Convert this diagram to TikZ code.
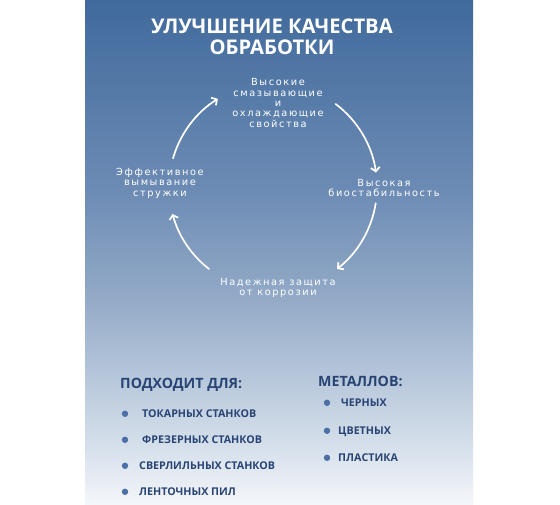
\documentclass[tikz,border=0pt]{standalone}
\usepackage{fontspec}
\setmainfont{Open Sans}
\newfontfamily\cycfont{DejaVu Sans}
\usetikzlibrary{arrows.meta}
\definecolor{PanelTop}{RGB}{64,106,156}
\definecolor{PanelA}{RGB}{108,139,180}
\definecolor{PanelMid}{RGB}{148,171,200}
\definecolor{PanelB}{RGB}{184,200,219}
\definecolor{PanelC}{RGB}{215,225,236}
\definecolor{PanelBot}{RGB}{244,246,250}
\definecolor{NavyText}{RGB}{40,68,116}
\definecolor{DotBlue}{RGB}{76,111,166}
\pgfdeclareverticalshading{panelfade}{100bp}{color(0bp)=(PanelBot); color(25bp)=(PanelBot); color(30.4bp)=(PanelC); color(37.3bp)=(PanelB); color(45.2bp)=(PanelMid); color(56.2bp)=(PanelA); color(75bp)=(PanelTop); color(100bp)=(PanelTop)}

\begin{document}
\begin{tikzpicture}[x=1pt, y=-1pt,
    cyclab/.style={white, align=center, inner sep=0pt, font=\cycfont\fontsize{9.8}{10.4}\selectfont\addfontfeature{LetterSpace=16}},
    cycarrow/.style={white, line width=1.7pt, line cap=round, -{Straight Barb[length=4pt, width=9pt]}},
    heading/.style={NavyText, anchor=base west, inner sep=0pt, font=\fontsize{14.2}{16}\selectfont\bfseries},
    item/.style={NavyText, anchor=base west, inner sep=0pt, font=\fontsize{10.7}{12}\selectfont\bfseries},
    dot/.style={circle, fill=DotBlue, minimum size=6.4pt, inner sep=0pt}]
    \useasboundingbox (0,0) rectangle (560,504);

    % Background panel
    \fill[white] (0,0) rectangle (560,504);
    \shade[shading=panelfade] (85,0) rectangle (473,504);

    % Title
    \node[white, align=center, inner sep=0pt, anchor=north, font=\fontsize{20.2}{20.5}\selectfont\bfseries] (title) at (272,19) {УЛУЧШЕНИЕ КАЧЕСТВА\\ОБРАБОТКИ};

    % Cycle labels
    \node[cyclab] (props) at (278,103) {Высокие\\смазывающие\\и\\охлаждающие\\свойства};
    \node[cyclab] (biostab) at (384,188) {Высокая\\биостабильность};
    \node[cyclab] (corros) at (278,288) {Надежная защита\\от коррозии};
    \node[cyclab] (chips) at (160,183) {Эффективное\\вымывание\\стружки};

    % Cycle arrows
    \coordinate (hub) at (273,187);
    \draw[cycarrow] ([shift={(-164:104)}]hub) arc[start angle=-164, end angle=-122, radius=104];
    \draw[cycarrow] ([shift={(-53:104)}]hub) arc[start angle=-53, end angle=-8, radius=104];
    \draw[cycarrow] ([shift={(9:104)}]hub) arc[start angle=9, end angle=52, radius=104];
    \draw[cycarrow] ([shift={(128:104)}]hub) arc[start angle=128, end angle=165, radius=104];

    % Suitable for
    \node[heading] (suit) at (120,388) {ПОДХОДИТ ДЛЯ:};
    \foreach \i/\xt/\yb/\txt in {1/142/417.5/ТОКАРНЫХ СТАНКОВ, 2/142/443.5/ФРЕЗЕРНЫХ СТАНКОВ, 3/139/469.5/СВЕРЛИЛЬНЫХ СТАНКОВ, 4/139/495.5/ЛЕНТОЧНЫХ ПИЛ}{
        \node[dot] (suitdot\i) at (125,\yb-3.7) {};
        \node[item] (suit\i) at (\xt,\yb) {\txt};
    }

    % Metals
    \node[heading] (metal) at (318,386) {МЕТАЛЛОВ:};
    \foreach \i/\xt/\yb/\txt in {1/341/406.5/ЧЕРНЫХ, 2/338/434.5/ЦВЕТНЫХ, 3/338/461.5/ПЛАСТИКА}{
        \node[dot] (metaldot\i) at (327,\yb-3.7) {};
        \node[item] (metal\i) at (\xt,\yb) {\txt};
    }
\end{tikzpicture}
\end{document}
